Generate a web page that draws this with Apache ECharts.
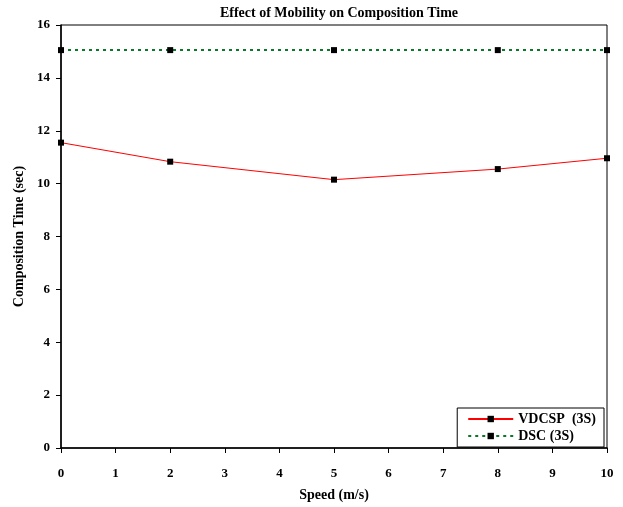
<!DOCTYPE html>
<html><head><meta charset="utf-8">
<script src="https://cdn.jsdelivr.net/npm/echarts@6/dist/echarts.min.js"></script>
<style>html,body{margin:0;padding:0;background:#fff}#c{width:623px;height:507px}</style>
</head><body><div id="c"></div>
<script>
const speeds = [0, 2, 5, 8, 10];
const vdcsp = [11.55, 10.83, 10.15, 10.55, 10.96];
const dsc = [15.05, 15.05, 15.05, 15.05, 15.05];
const seriesNames = ['VDCSP  (3S)', 'DSC (3S)'];
const titleText = 'Effect of Mobility on Composition Time';
const xName = 'Speed (m/s)';
const yName = 'Composition Time (sec)';

const font = 'Liberation Serif';
const chart = echarts.init(document.getElementById('c'), null, {renderer: 'canvas'});
chart.setOption({
  animation: false,
  backgroundColor: '#fff',
  title: {text: titleText, left: 334, top: 1, textAlign: 'center',
    textStyle: {fontFamily: font, fontSize: 14, fontWeight: 'bold', color: '#000'}},
  grid: {left: 61, right: 16, top: 25, bottom: 54, show: true, borderColor: '#000', borderWidth: 1},
  legend: {right: 19, bottom: 60, orient: 'vertical', itemWidth: 45, itemHeight: 8, itemGap: 3,
    borderColor: '#000', borderWidth: 1, padding: [4, 8, 4, 10], backgroundColor: '#fff',
    textStyle: {fontFamily: font, fontSize: 14, fontWeight: 'bold', color: '#000'},
    data: seriesNames},
  xAxis: {type: 'value', min: 0, max: 10, interval: 1, name: xName, nameLocation: 'middle', nameGap: 40,
    nameTextStyle: {fontFamily: font, fontSize: 14, fontWeight: 'bold', color: '#000'},
    axisLine: {lineStyle: {color: '#000', width: 1.5}}, splitLine: {show: false},
    axisTick: {show: true, length: 5, lineStyle: {color: '#000'}},
    axisLabel: {fontFamily: font, fontSize: 13, fontWeight: 'bold', color: '#000', margin: 19}},
  yAxis: {type: 'value', min: 0, max: 16, interval: 2, name: yName, nameLocation: 'middle', nameGap: 34,
    nameTextStyle: {fontFamily: font, fontSize: 14, fontWeight: 'bold', color: '#000'},
    axisLine: {show: true, lineStyle: {color: '#000', width: 1.5}}, splitLine: {show: false},
    axisTick: {show: true, length: 5, lineStyle: {color: '#000'}},
    axisLabel: {fontFamily: font, fontSize: 13, fontWeight: 'bold', color: '#000', margin: 11}},
  series: [
    {name: seriesNames[0], type: 'line', data: speeds.map((s, i) => [s, vdcsp[i]]),
     symbol: 'rect', symbolSize: 6, lineStyle: {color: '#ff0000', width: 1},
     itemStyle: {color: '#000'}, color: '#ff0000'},
    {name: seriesNames[1], type: 'line', data: speeds.map((s, i) => [s, dsc[i]]),
     symbol: 'rect', symbolSize: 6, lineStyle: {color: '#0a7a2a', width: 2, type: [3, 4]},
     itemStyle: {color: '#000'}, color: '#0a7a2a'}
  ]
});
</script></body></html>
